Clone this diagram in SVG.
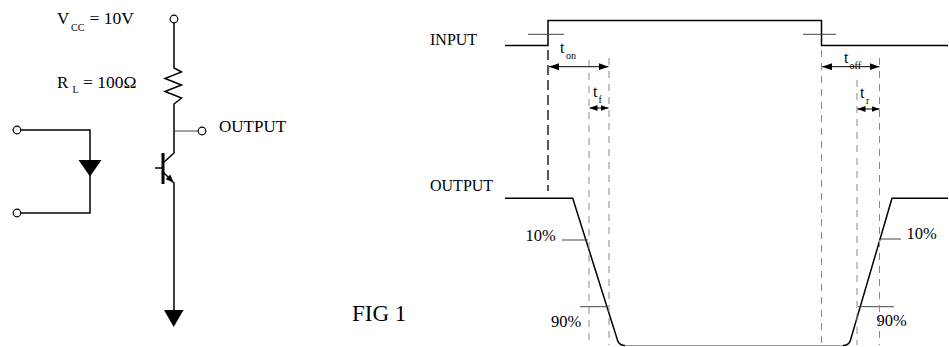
<svg xmlns="http://www.w3.org/2000/svg" width="949" height="347" viewBox="0 0 949 347">
<style>
  text { font-family: "Liberation Serif", "Times New Roman", serif; fill: #000; }
  .w { fill: none; stroke: #000; stroke-width: 1.5; }
  .thin { fill: none; stroke: #444; stroke-width: 1; }
  .term { fill: #fff; stroke: #000; stroke-width: 1.2; }
  .dk { fill: none; stroke: #222; stroke-width: 1.5; stroke-dasharray: 10 5; }
  .dg { fill: none; stroke: #888; stroke-width: 1; stroke-dasharray: 7 6; }
  .dim { fill: none; stroke: #000; stroke-width: 1; }
</style>
<defs>
  <marker id="ah" viewBox="0 0 10 7" refX="10" refY="3.5" markerWidth="10" markerHeight="7" markerUnits="userSpaceOnUse" orient="auto-start-reverse">
    <path d="M0,0 L10,3.5 L0,7 Z" fill="#000"/>
  </marker>
  <marker id="ahs" viewBox="0 0 8 6" refX="8" refY="3" markerWidth="8" markerHeight="6" markerUnits="userSpaceOnUse" orient="auto-start-reverse">
    <path d="M0,0 L8,3 L0,6 Z" fill="#000"/>
  </marker>
</defs>

<g id="circuit">
  <g id="vcc-terminal"><circle class="term" cx="174" cy="19" r="3.8"/></g>
  <g id="resistor"><path class="w" d="M174,22.8 V68 L181.5,72 L165,78.5 L181.5,85 L165,91.5 L181.5,98 L174,104 V131"/></g>
  <g id="output-terminal">
    <path class="thin" d="M174,131 H198"/>
    <circle class="term" cx="202" cy="131" r="3.8"/>
  </g>
  <g id="transistor">
    <path class="w" d="M174,131 V153 L163,163"/>
    <rect x="161.5" y="153" width="3" height="31" fill="#000"/>
    <path class="w" d="M155,168 H163"/>
    <path class="w" d="M163,172 L174,183 V310"/>
    <path d="M173.5,182.5 L165.6,179.3 L170.3,174.6 Z" fill="#000"/>
  </g>
  <g id="ground"><path d="M164,310 H183.5 L173.7,327 Z" fill="#000"/></g>
  <g id="input-diode">
    <circle class="term" cx="17" cy="130" r="3.8"/>
    <circle class="term" cx="17" cy="213" r="3.8"/>
    <path class="w" d="M20.8,130 H90 V213 H20.8"/>
    <path d="M78.5,160 H101.5 L90,176.5 Z" fill="#000"/>
  </g>
  <text x="57" y="24" font-size="17">V</text>
  <text x="71" y="31" font-size="10">CC</text>
  <text x="89.5" y="24" font-size="17.5">= 10V</text>
  <text x="57" y="87.5" font-size="17">R</text>
  <text x="72.5" y="93" font-size="10">L</text>
  <text x="83" y="87.5" font-size="17.5">= 100Ω</text>
  <text x="219" y="131.7" font-size="17">OUTPUT</text>
</g>

<text x="352" y="321" font-size="23">FIG 1</text>

<g id="timing">
  <text x="430" y="45" font-size="16">INPUT</text>
  <text x="430" y="191" font-size="16">OUTPUT</text>
  <path class="w" d="M505,45.5 H548 V20.5 H821.5 V45.5 H948"/>
  <path class="thin" d="M528,34.3 H564 M803,34.3 H836"/>
  <path class="w" d="M505,198.3 H572.7 L618,341.7 Q620,345.5 625,345.5 M843,345.5 Q848,345.5 850,341.7 L892,198.3 H948"/>
  <path d="M625,345.5 H843" fill="none" stroke="#999" stroke-width="1"/>
  <path class="thin" d="M562,240 H588 M580,306.7 H608 M880,239 H901 M858,306.7 H894"/>
  <text x="525.5" y="241" font-size="16.5">10%</text>
  <text x="551" y="326.5" font-size="16.5">90%</text>
  <text x="906.5" y="238.5" font-size="16.5">10%</text>
  <text x="876.5" y="325.5" font-size="16.5">90%</text>
</g>

<g id="connectors">
  <path class="dk" d="M548,50 V191"/>
  <path class="dg" d="M589,60 V345 M609,58 V345 M821.5,50 V345 M857,80 V345 M879.5,58 V345"/>
  <path class="dim" d="M549,66.7 H608.5" marker-start="url(#ah)" marker-end="url(#ah)"/>
  <path class="dim" d="M589.5,108 H608.5" marker-start="url(#ahs)" marker-end="url(#ahs)"/>
  <path class="dim" d="M822,66.7 H879.5" marker-start="url(#ah)" marker-end="url(#ah)"/>
  <path class="dim" d="M857.5,109 H879.5" marker-start="url(#ahs)" marker-end="url(#ahs)"/>
</g>

<g id="labels">
  <text x="560" y="53" font-size="16">t</text>
  <text x="566" y="59" font-size="10">on</text>
  <text x="593" y="97" font-size="16">t</text>
  <text x="598.5" y="103" font-size="10">f</text>
  <text x="844" y="62.5" font-size="16">t</text>
  <text x="849.5" y="68.5" font-size="10">off</text>
  <text x="860" y="97.5" font-size="16">t</text>
  <text x="866" y="103.5" font-size="10">r</text>
</g>
</svg>
